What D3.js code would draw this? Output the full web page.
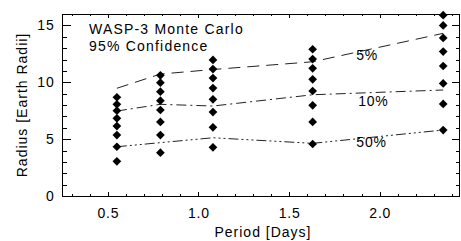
<!doctype html>
<html lang="en">
<head>
<meta charset="utf-8">
<title>WASP-3 Monte Carlo</title>
<script src="https://d3js.org/d3.v7.min.js"></script>
<style>
  body { margin: 0; background: #fff; }
  svg { display: block; font-family: "Liberation Sans", Arial, sans-serif; }
  .curve { fill: none; stroke: #222; stroke-width: 1px; }
  .axis line, .axis path { stroke: #000; shape-rendering: crispEdges; }
</style>
</head>
<body>
<svg width="461" height="241"></svg>
<script>
// orbital period of each simulated column [days]
var periods = [0.55, 0.79, 1.08, 1.63, 2.35];

// radii of the diamonds in each column [Earth radii], bottom to top
var radiiCol1 = [3.05, 4.33, 5.36, 6.15, 6.83, 7.5, 8.06, 8.68];
var radiiCol2 = [3.81, 5.36, 6.51, 7.56, 8.38, 9.17, 9.96, 10.61];
var radiiCol3 = [4.28, 6.04, 7.38, 8.5, 9.49, 10.37, 11.16, 11.96];
var radiiCol4 = [4.57, 6.51, 7.97, 9.23, 10.26, 11.22, 12.04, 12.9];
var radiiCol5 = [5.8, 8.09, 9.9, 11.43, 12.7, 13.9, 15.0, 15.9];

// confidence curves (radius at each period)
var curve5 = [9.47, 10.72, 11.12, 11.8, 14.3];
var curve10 = [7.47, 8.06, 7.91, 8.9, 9.32];
var curve50 = [4.33, 4.69, 5.12, 4.63, 5.8];

var curveNames = ["5%", "10%", "50%"];
var xTicks = [0.5, 1.0, 1.5, 2.0];
var yTicks = [0, 5, 10, 15];

var margin = {left: 62.5, top: 14, right: 1.5, bottom: 45};
var svg = d3.select("svg");
var width = 461 - margin.left - margin.right;
var height = 241 - margin.top - margin.bottom;

var g = svg.append("g")
    .attr("transform", "translate(" + margin.left + "," + margin.top + ")");

var x = d3.scaleLinear().domain([0.25, 2.44]).range([0, width]);
var y = d3.scaleLinear().domain([0, 16]).range([height, 0]);

var xMinor = d3.range(0.3, 2.44, 0.1).map(function(d) { return Math.round(d * 10) / 10; });
var yMinor = d3.range(0, 17, 1);

// frame
g.append("rect")
    .attr("width", width).attr("height", height)
    .attr("fill", "none").attr("stroke", "#000")
    .attr("shape-rendering", "crispEdges");

// bottom axis + mirrored top ticks
g.append("g").attr("class", "axis")
    .attr("transform", "translate(0," + height + ")")
    .call(d3.axisBottom(x).tickValues(xMinor).tickSize(-2).tickFormat(""))
    .call(function(s) { s.select(".domain").remove(); });
g.append("g").attr("class", "axis")
    .attr("transform", "translate(0," + height + ")")
    .call(d3.axisBottom(x).tickValues(xTicks).tickSize(-4).tickPadding(12)
        .tickFormat(d3.format(".1f")))
    .call(function(s) {
        s.select(".domain").remove();
        s.selectAll("text").attr("font-size", 14).attr("letter-spacing", 0.8)
            .attr("font-family", "Liberation Sans, Arial, sans-serif");
    });
g.append("g").attr("class", "axis")
    .call(d3.axisTop(x).tickValues(xMinor).tickSize(-2).tickFormat(""))
    .call(function(s) { s.select(".domain").remove(); });
g.append("g").attr("class", "axis")
    .call(d3.axisTop(x).tickValues(xTicks).tickSize(-4).tickFormat(""))
    .call(function(s) { s.select(".domain").remove(); });

// left axis + mirrored right ticks
g.append("g").attr("class", "axis")
    .call(d3.axisLeft(y).tickValues(yMinor).tickSize(-4).tickFormat(""))
    .call(function(s) { s.select(".domain").remove(); });
g.append("g").attr("class", "axis")
    .call(d3.axisLeft(y).tickValues(yTicks).tickSize(-8).tickPadding(8)
        .tickFormat(d3.format("d")))
    .call(function(s) {
        s.select(".domain").remove();
        s.selectAll("text").attr("font-size", 14).attr("letter-spacing", 0.8)
            .attr("font-family", "Liberation Sans, Arial, sans-serif");
    });
g.append("g").attr("class", "axis")
    .attr("transform", "translate(" + width + ",0)")
    .call(d3.axisRight(y).tickValues(yMinor).tickSize(-4).tickFormat(""))
    .call(function(s) { s.select(".domain").remove(); });
g.append("g").attr("class", "axis")
    .attr("transform", "translate(" + width + ",0)")
    .call(d3.axisRight(y).tickValues(yTicks).tickSize(-8).tickFormat(""))
    .call(function(s) { s.select(".domain").remove(); });

// axis titles
svg.append("text")
    .attr("x", 263).attr("y", 236.5)
    .attr("text-anchor", "middle").attr("font-size", 14)
    .attr("letter-spacing", 1)
    .text("Period [Days]");
svg.append("text")
    .attr("transform", "translate(27," + (margin.top + height / 2) + ") rotate(-90)")
    .attr("text-anchor", "middle").attr("font-size", 14)
    .attr("letter-spacing", 1)
    .text("Radius [Earth Radii]");

// confidence curves
var curves = [curve5, curve10, curve50];
var dashes = ["12,7", "10,4,2,4", "10,3,2,3,2,3,2,3"];
var line = d3.line()
    .x(function(d, i) { return x(periods[i]); })
    .y(function(d) { return y(d); });

g.selectAll(".curve")
    .data(curves)
    .enter().append("path")
    .attr("class", "curve")
    .attr("stroke-dasharray", function(d, i) { return dashes[i]; })
    .attr("d", line);

// curve labels
var labelPos = [{p: 1.93, r: 12.0}, {p: 1.965, r: 7.9}, {p: 1.955, r: 4.3}];
g.selectAll(".clabel")
    .data(curveNames)
    .enter().append("text")
    .attr("class", "clabel")
    .attr("x", function(d, i) { return x(labelPos[i].p); })
    .attr("y", function(d, i) { return y(labelPos[i].r); })
    .attr("text-anchor", "middle").attr("font-size", 14)
    .attr("letter-spacing", 0.8)
    .text(function(d) { return d; });

// diamonds
var columns = [radiiCol1, radiiCol2, radiiCol3, radiiCol4, radiiCol5];
var points = [];
columns.forEach(function(col, i) {
    col.forEach(function(r) { points.push({p: periods[i], r: r}); });
});
var diamond = d3.symbol().type(d3.symbolSquare).size(38);
g.selectAll(".pt")
    .data(points)
    .enter().append("path")
    .attr("class", "pt")
    .attr("transform", function(d) { return "translate(" + x(d.p) + "," + y(d.r) + ") rotate(45)"; })
    .attr("d", diamond)
    .attr("fill", "#000");

// annotation
svg.append("text")
    .attr("x", 89).attr("y", 33.5).attr("font-size", 14)
    .attr("letter-spacing", 1.2)
    .text("WASP-3 Monte Carlo");
svg.append("text")
    .attr("x", 89).attr("y", 51).attr("font-size", 14)
    .attr("letter-spacing", 1.2)
    .text("95% Confidence");
</script>
</body>
</html>
